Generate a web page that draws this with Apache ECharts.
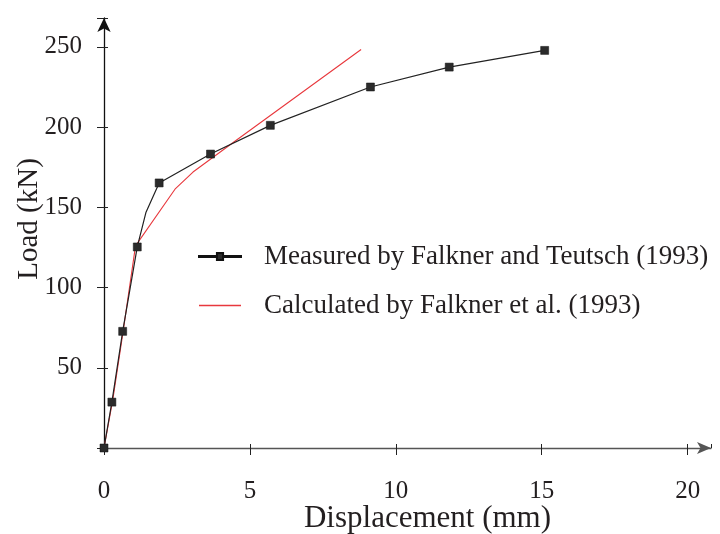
<!DOCTYPE html>
<html>
<head>
<meta charset="UTF-8"/>
<title>Load - displacement</title>
<script src="https://cdn.jsdelivr.net/npm/echarts@6/dist/echarts.min.js"></script>
<style>
  html, body { margin: 0; padding: 0; background: #fff; }
  #chart { width: 720px; height: 534px; }
</style>
</head>
<body>
<div id="chart"></div>
<script>
// measured points (displacement mm, load kN)
var measuredX = [0, 0.27, 0.64, 1.14, 1.44, 1.89, 3.65, 5.70, 9.13, 11.83, 15.1];
var measuredY = [0, 28.6, 72.7, 125.3, 147, 165.2, 183.2, 201.1, 225, 237.4, 247.8];
// the 1.44 point is only a bend of the line, it has no marker
var measuredMarked = [true, true, true, true, false, true, true, true, true, true, true];

var calcX = [0, 0.3, 0.65, 1.08, 2.45, 3.05, 4.45, 8.81];
var calcY = [0, 30, 72, 126, 161.7, 172, 190.7, 248.4];

var xTicks = [0, 5, 10, 15, 20];
var yTicks = [50, 100, 150, 200, 250];

var names = ['Measured by Falkner and Teutsch (1993)', 'Calculated by Falkner et al. (1993)'];

var font = 'Liberation Serif';
var ink = '#231f20';

var measured = measuredX.map(function (x, i) {
  var d = { value: [x, measuredY[i]] };
  if (!measuredMarked[i]) d.symbol = 'none';
  return d;
});
var calc = calcX.map(function (x, i) { return [x, calcY[i]]; });

var chart = echarts.init(document.getElementById('chart'));
var option = {
  animation: false,
  grid: { left: 104, right: 9, top: 18, bottom: 86, outerBoundsMode: 'none' },
  legend: {
    orient: 'vertical',
    left: 193,
    top: 238,
    itemWidth: 42,
    itemHeight: 8,
    itemGap: 22,
    data: [
      { name: names[0], icon: 'path://M0,3.6H17.5V0.5H23.5V3.6H41V4.4H23.5V7.5H17.5V4.4H0Z' },
      { name: names[1], icon: 'path://M0,0H41V1.6H0Z' }
    ],
    textStyle: { fontFamily: font, fontSize: 27, color: ink, padding: [0, 0, 0, 18] }
  },
  xAxis: [{
    type: 'value',
    min: 0,
    max: 20.8,
    interval: 5,
    name: 'Displacement (mm)',
    nameLocation: 'middle',
    nameGap: 55,
    nameMoveOverlap: false,
    nameTextStyle: { fontFamily: font, fontSize: 31, color: ink, padding: [0, 0, 0, 40] },
    splitLine: { show: false },
    axisLine: { lineStyle: { color: '#555', width: 1.3 }, symbol: ['none', 'arrow'], symbolSize: [9, 14] },
    axisTick: { length: 7, lineStyle: { color: '#222' } },
    axisLabel: {
      fontFamily: font, fontSize: 25, color: ink, margin: 31,
      showMaxLabel: false,
      formatter: function (v) { return xTicks.indexOf(v) >= 0 ? String(v) : ''; }
    }
  }, {
    type: 'value', min: 0, max: 20.8, interval: 5, position: 'bottom',
    splitLine: { show: false }, axisLine: { show: false }, axisLabel: { show: false },
    axisTick: { inside: true, length: 4, lineStyle: { color: '#222' } }
  }],
  yAxis: [{
    type: 'value',
    min: 0,
    max: 268,
    interval: 50,
    name: 'Load (kN)',
    nameLocation: 'middle',
    nameGap: 60,
    nameMoveOverlap: false,
    nameTextStyle: { fontFamily: font, fontSize: 29, color: ink, padding: [0, 0, 0, 28] },
    splitLine: { show: false },
    axisLine: { lineStyle: { color: '#111', width: 1.3 }, symbol: ['none', 'arrow'], symbolSize: [10, 14] },
    axisTick: { length: 7, lineStyle: { color: '#222' } },
    axisLabel: {
      fontFamily: font, fontSize: 25, color: ink, margin: 22,
      formatter: function (v) { return yTicks.indexOf(v) >= 0 ? String(v) : ''; }
    }
  }, {
    type: 'value', min: 0, max: 268, interval: 50, position: 'left',
    splitLine: { show: false }, axisLine: { show: false }, axisLabel: { show: false },
    axisTick: { inside: true, length: 4, lineStyle: { color: '#222' } }
  }],
  series: [{
    name: names[1],
    type: 'line',
    data: calc,
    symbol: 'none',
    lineStyle: { color: '#e8383d', width: 1.1 },
    itemStyle: { color: '#e8383d' },
    z: 2
  }, {
    name: names[0],
    type: 'line',
    data: measured,
    symbol: 'rect',
    symbolSize: 8,
    lineStyle: { color: '#222', width: 1.2 },
    itemStyle: { color: '#2b2b2b', borderColor: '#111', borderWidth: 0.5 },
    z: 3
  }]
};
chart.setOption(option);
</script>
</body>
</html>
